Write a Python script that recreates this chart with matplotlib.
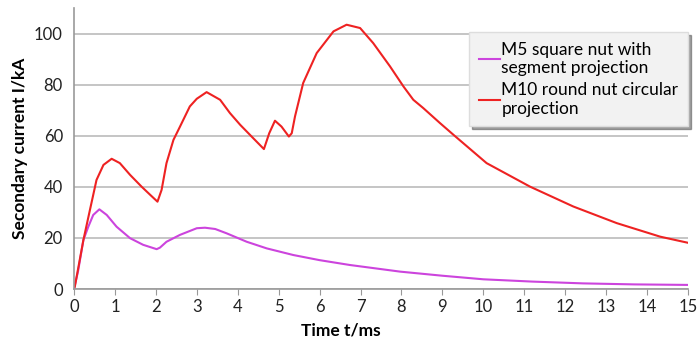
import numpy as np
import matplotlib
matplotlib.use('Agg')
from matplotlib import pyplot as plt

# values
t_m5 = [0, 0.1, 0.23, 0.35, 0.47, 0.62, 0.8, 1.04, 1.37, 1.69, 2.02, 2.1, 2.26, 2.59, 3.0, 3.2, 3.45, 3.73, 4.22,
        4.71, 5.36, 6.0, 6.74, 7.97, 9.0, 10.0, 11.2, 12.44, 13.7, 15.0]
i_m5 = [0, 7, 19.2, 24.4, 29.0, 31.2, 29.0, 24.4, 19.9, 17.3, 15.6, 16.2, 18.5, 21.2, 23.8, 24.0, 23.5, 21.8, 18.5,
        15.9, 13.3, 11.3, 9.4, 6.8, 5.2, 3.8, 2.9, 2.2, 1.8, 1.6]

t_m10 = [0, 0.02, 0.23, 0.39, 0.55, 0.72, 0.92, 1.12, 1.37, 1.65, 1.86, 2.04, 2.14, 2.26, 2.43, 2.59, 2.83, 3.0,
         3.24, 3.57, 3.81, 4.06, 4.34, 4.64, 4.77, 4.91, 5.07, 5.25, 5.32, 5.40, 5.6, 5.93, 6.34, 6.66, 6.99,
         7.31, 7.72, 8.05, 8.29, 8.53, 8.94, 9.27, 10.08, 11.14, 12.2, 13.26, 14.32, 15.0]
i_m10 = [0, 0.9, 19.2, 31.0, 42.7, 48.6, 51.0, 49.3, 44.7, 40.1, 36.9, 34.2, 38.8, 49.3, 58.4, 63.6, 71.5, 74.5,
         77.1, 74.1, 68.9, 64.3, 59.7, 54.8, 61.0, 65.9, 63.6, 59.7, 61.0, 67.6, 80.7, 92.4, 100.9, 103.5, 102.2,
         96.3, 87.2, 79.3, 74.1, 70.9, 65.0, 60.4, 49.3, 40.1, 32.3, 25.8, 20.5, 18.1]

labels = ['M5 square nut with\nsegment projection', 'M10 round nut circular\nprojection']
x_ticks = list(range(0, 16))
y_ticks = [0, 20, 40, 60, 80, 100]

plt.rcParams['font.family'] = ['Lato', 'DejaVu Sans']

fig = plt.figure(figsize=(7, 3.53), dpi=100)
ax = fig.add_axes([0.1057, 0.1813, 0.8771, 0.7957])

ax.plot(t_m5, i_m5, color='#cc44dd', lw=1.5, label=labels[0])
ax.plot(t_m10, i_m10, color='#ee2222', lw=1.5, label=labels[1])

ax.set_xlim(0, 15)
ax.set_ylim(0, 110)
ax.set_xticks(x_ticks)
ax.set_yticks(y_ticks)
ax.tick_params(axis='both', labelsize=12, colors='#222222')
ax.tick_params(axis='x', length=4, color='#999999')
ax.tick_params(axis='y', length=0, pad=8)
ax.grid(axis='y', color='#c0c0c0', lw=1.3)
ax.set_axisbelow(True)
for s in ['top', 'right']:
    ax.spines[s].set_visible(False)
for s in ['left', 'bottom']:
    ax.spines[s].set_color('#999999')
    ax.spines[s].set_linewidth(1.2)

ax.set_xlabel('Time t/ms', fontsize=12.5, fontweight='bold')
ax.xaxis.set_label_coords(0.435, -0.12)
ax.set_ylabel('Secondary current I/kA', fontsize=12.5, fontweight='bold')

leg = ax.legend(loc='upper right', bbox_to_anchor=(1.0, 0.915), fontsize=12.5, frameon=True,
                fancybox=False, shadow=True, handlelength=1.2, handletextpad=0.1,
                borderpad=0.55, labelspacing=0.35, borderaxespad=0)
leg.get_frame().set_facecolor('#f2f2f2')
leg.get_frame().set_edgecolor('#dddddd')

fig.savefig('out.png', dpi=100)
